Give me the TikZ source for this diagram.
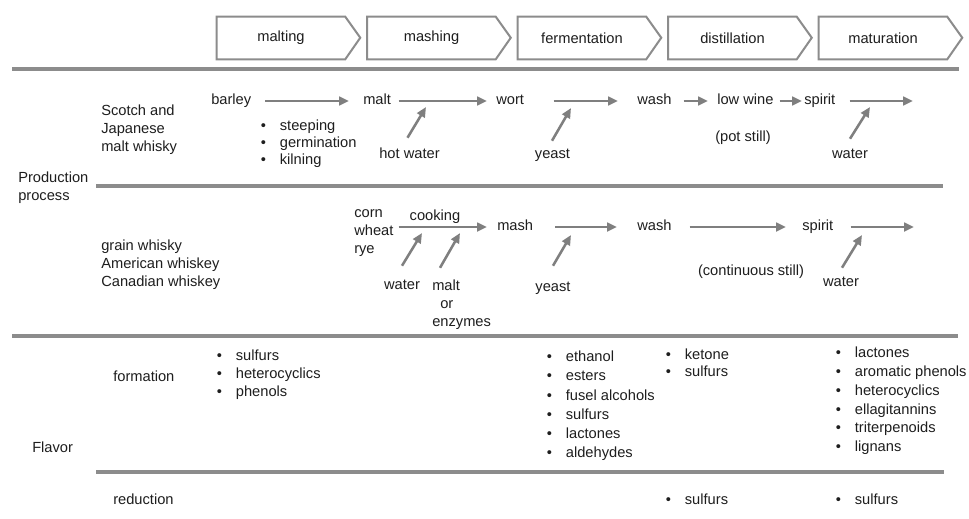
\documentclass[tikz,border=0pt]{standalone}
\usepackage{fontspec}
\setmainfont{Liberation Sans}
\usetikzlibrary{arrows.meta}
\definecolor{rulegray}{HTML}{8C8C8C}
\definecolor{flowgray}{HTML}{7F7F7F}
\definecolor{ink}{HTML}{1E1E1E}
\newcommand{\itemdot}{\textbullet\hspace{10.5pt}}

\begin{document}
\begin{tikzpicture}
    [   x=0.75pt
    ,   y=-0.75pt
    ,   every node/.style=
        {   font=\fontsize{11}{13.5}\selectfont
        ,   text=ink
        ,   inner sep=0pt
        }
    ,   word/.style=
        {   anchor=west
        ,   text height=8pt
        ,   text depth=2.5pt
        }
    ,   stage/.style=
        {   minimum width=96pt
        ,   minimum height=31.5pt
        }
    ,   chevron/.style={draw=rulegray, line width=1.5pt, line join=miter}
    ,   rulebar/.style={draw=rulegray, line width=2.4pt}
    ,   flow/.style=
        {   draw=flowgray
        ,   line width=1.9pt
        ,   -{Triangle[length=7.5pt,width=6.5pt]}
        }
    ]
    \path[use as bounding box, fill=white] (0,0) rectangle (969,518);

    % stages
    \foreach\lbl [count=\n from 0] in {malting,mashing,fermentation,distillation,maturation}
    {   \node[stage] (S\n) at (281+150.5*\n, 38) {\lbl};
        \draw[chevron]
        (S\n.north west) -- (S\n.north east) -- ++(15,21)
            -- (S\n.south east) -- (S\n.south west) -- cycle;
    }

    \draw[rulebar] (12,69) -- (959,69);
    \draw[rulebar] (96,186) -- (943,186);
    \draw[rulebar] (12,336) -- (958,336);
    \draw[rulebar] (96,472) -- (944,472);

    % base of a multi-line node = last line
    \node[anchor=base west, align=left] (prod) at (18,200.7) {Production\\process};
    \node[anchor=base west, align=left] (malttype) at (101,151.7) {Scotch and\\Japanese\\malt whisky};
    \node[anchor=base west, align=left] (graintype) at (101,286.7) {grain whisky\\American whiskey\\Canadian whiskey};

    % malt whisky
    \node[word] (barley) at (211,101) {barley};
    \node[word] (malt) at (363,101) {malt};
    \node[word] (wort) at (496,101) {wort};
    \node[word] (wash) at (637,101) {wash};
    \node[word] (lowwine) at (717,101) {low wine};
    \node[word] (spirit) at (804,101) {spirit};
    \coordinate (out) at (913,101);
    \coordinate (hw) at (426,107);
    \coordinate (ys) at (571,108);
    \coordinate (wt) at (870,107);

    \draw[flow, shorten <=10.5pt, shorten >=10.5pt] (barley) -- (malt);
    \draw[flow, shorten <=5.5pt, shorten >=6.75pt] (malt) -- (wort);
    \draw[flow, shorten <=22pt, shorten >=14.25pt] (wort) -- (wash);
    \draw[flow, shorten <=8.9pt, shorten >=6.75pt] (wash) -- (lowwine);
    \draw[flow, shorten <=4.4pt, shorten >=1.5pt] (lowwine) -- (spirit);
    \draw[flow, shorten <=10.5pt] (spirit) -- (out);

    \foreach\itm [count=\i from 0] in {steeping,germination,kilning}
    {   \node[word] (M\i) at (260.5, 127+17*\i) {\itemdot\itm};
    }
    \node[word, anchor=center] (hotwater) at (409.5,155) {hot water};
    \node[word, anchor=center] (yeast) at (552.5,155) {yeast};
    \node[word, anchor=center] (water) at (850,155) {water};
    \node[word, anchor=center] (potstill) at (743,138) {(pot still)};
    \draw[flow] (hotwater.north) ++(-2,-10) -- (hw);
    \draw[flow] (yeast.north) ++(-0.5,-7) -- (ys);
    \draw[flow] (water.north) ++(0,-9) -- (wt);

    % grain whisky
    \node[anchor=base west, align=left] (grains) at (354,253.7) {corn\\wheat\\rye};
    \node[word, anchor=center] (cooking) at (435,217) {cooking};
    \node[word] (mash) at (497,227) {mash};
    \node[word] (wash2) at (637,227) {wash};
    \node[word] (spirit2) at (802,227) {spirit};
    \coordinate (out2) at (914,227);
    \coordinate (fw) at (422,233);
    \coordinate (fm) at (460,233);
    \coordinate (ys2) at (571,235);
    \coordinate (wt2) at (862,235);

    \draw[flow, shorten <=3.75pt, shorten >=7.5pt] (grains.east |- mash.west) -- (mash.west);
    \draw[flow, shorten <=16.5pt, shorten >=15pt] (mash) -- (wash2);
    \draw[flow, shorten <=13.4pt, shorten >=12pt] (wash2) -- (spirit2);
    \draw[flow, shorten <=12.75pt] (spirit2) -- (out2);

    \node[word, anchor=center] (water2) at (402,286) {water};
    \node[anchor=base west, align=left] (maltenz) at (432,326.7) {malt\\\hspace{6pt}or\\enzymes};
    \node[word, anchor=center] (yeast2) at (553,288) {yeast};
    \node[word, anchor=center] (contstill) at (751,272) {(continuous still)};
    \node[word, anchor=center] (water3) at (841,283) {water};
    \draw[flow] (water2.north) ++(0,-13) -- (fw);
    \draw[flow] (maltenz.north west) ++(8,-12) -- (fm);
    \draw[flow] (yeast2.north) ++(0,-15) -- (ys2);
    \draw[flow] (water3.north) ++(1,-8) -- (wt2);

    % flavor
    \node[word] (flavor) at (32,449) {Flavor};
    \node[word] (formation) at (113,378) {formation};
    \node[word] (reduction) at (113,501) {reduction};
    \foreach\itm [count=\i from 0] in {sulfurs,heterocyclics,phenols}
    {   \node[word] (FA\i) at (216.5, 357+18*\i) {\itemdot\itm};
    }
    \foreach\itm [count=\i from 0] in {ethanol,esters,fusel alcohols,sulfurs,lactones,aldehydes}
    {   \node[word] (FB\i) at (546.5, 358+19.2*\i) {\itemdot\itm};
    }
    \foreach\itm [count=\i from 0] in {ketone,sulfurs}
    {   \node[word] (FC\i) at (665.5, 356+17*\i) {\itemdot\itm};
    }
    \foreach\itm [count=\i from 0] in {lactones,aromatic phenols,heterocyclics,ellagitannins,triterpenoids,lignans}
    {   \node[word] (FD\i) at (835.5, 354+18.8*\i) {\itemdot\itm};
    }
    \node[word] (RC) at (665.5,501) {\itemdot sulfurs};
    \node[word] (RD) at (835.5,501) {\itemdot sulfurs};
\end{tikzpicture}
\end{document}
